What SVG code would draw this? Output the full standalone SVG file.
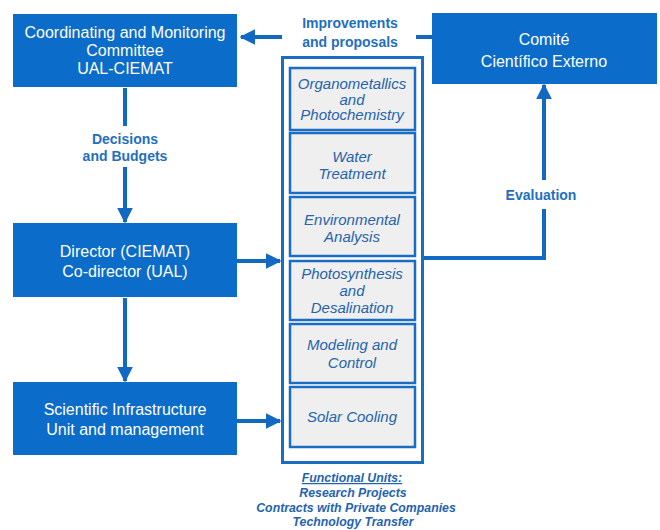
<svg xmlns="http://www.w3.org/2000/svg" width="660" height="530" viewBox="0 0 660 530">
<style>
.main{fill:#0b6cc9;}
.mt{fill:#ffffff;font-family:"Liberation Sans",Arial,sans-serif;font-size:16px;text-anchor:middle;}
.unit{fill:#efefef;stroke:#1a6dc2;stroke-width:2.5;}
.ut{fill:#2563ad;font-family:"Liberation Sans",Arial,sans-serif;font-style:italic;font-size:15px;text-anchor:middle;}
.lbl{fill:#1f6fc0;font-family:"Liberation Sans",Arial,sans-serif;font-weight:bold;font-size:14px;text-anchor:middle;}
.conn{stroke:#1269c4;stroke-width:4;fill:none;}
.fu{fill:#1f64b0;font-family:"Liberation Sans",Arial,sans-serif;font-style:italic;font-weight:bold;font-size:12.3px;text-anchor:middle;}
</style>
<defs>
<marker id="ah" viewBox="0 0 10 10" refX="9" refY="5" markerWidth="4" markerHeight="4" markerUnits="strokeWidth" orient="auto">
<path d="M0,0 L10,5 L0,10 z" fill="#1269c4"/>
</marker>
</defs>
<rect width="660" height="530" fill="#ffffff"/>

<g id="connectors">
<line class="conn" x1="432" y1="37" x2="416" y2="37"/>
<line class="conn" x1="282" y1="37" x2="241" y2="37" marker-end="url(#ah)"/>
<line class="conn" x1="125" y1="88" x2="125" y2="126"/>
<line class="conn" x1="125" y1="167" x2="125" y2="222" marker-end="url(#ah)"/>
<line class="conn" x1="125" y1="298" x2="125" y2="381" marker-end="url(#ah)"/>
<line class="conn" x1="237" y1="261" x2="280" y2="261" marker-end="url(#ah)"/>
<line class="conn" x1="237" y1="421" x2="280" y2="421" marker-end="url(#ah)"/>
<polyline class="conn" points="423,258 544,258 544,209"/>
<line class="conn" x1="544" y1="180" x2="544" y2="85" marker-end="url(#ah)"/>
<text class="lbl" x="350" y="28">Improvements</text>
<text class="lbl" x="350" y="47">and proposals</text>
<text class="lbl" x="125" y="144">Decisions</text>
<text class="lbl" x="125" y="161">and Budgets</text>
<text class="lbl" x="541" y="200">Evaluation</text>
</g>

<g id="coordinating">
<rect class="main" x="13" y="14" width="224" height="73"/>
<text class="mt" x="125" y="38">Coordinating and Monitoring</text>
<text class="mt" x="125" y="56">Committee</text>
<text class="mt" x="125" y="74">UAL-CIEMAT</text>
</g>

<g id="comite">
<rect class="main" x="432" y="13" width="225" height="71"/>
<text class="mt" x="544" y="45" font-size="16.5">Comité</text>
<text class="mt" x="544" y="67" font-size="16.5">Científico Externo</text>
</g>

<g id="director">
<rect class="main" x="13" y="223" width="224" height="74"/>
<text class="mt" x="125" y="257">Director (CIEMAT)</text>
<text class="mt" x="125" y="277">Co-director (UAL)</text>
</g>

<g id="infrastructure">
<rect class="main" x="13" y="382" width="224" height="73"/>
<text class="mt" x="125" y="415">Scientific Infrastructure</text>
<text class="mt" x="125" y="435">Unit and management</text>
</g>

<g id="container">
<rect x="282.5" y="57.5" width="140" height="405" fill="#ffffff" stroke="#1a6dc2" stroke-width="3"/>
</g>

<g id="organometallics">
<rect class="unit" x="290" y="68" width="125" height="62"/>
<text class="ut" x="352" y="89" font-size="12">Organometallics</text>
<text class="ut" x="352" y="104.5" font-size="12">and</text>
<text class="ut" x="352" y="120" font-size="12">Photochemistry</text>
</g>
<g id="water">
<rect class="unit" x="290" y="133" width="125" height="60"/>
<text class="ut" x="352" y="162">Water</text>
<text class="ut" x="352" y="179">Treatment</text>
</g>
<g id="environmental">
<rect class="unit" x="290" y="197" width="125" height="59"/>
<text class="ut" x="352" y="225">Environmental</text>
<text class="ut" x="352" y="242">Analysis</text>
</g>
<g id="photosynthesis">
<rect class="unit" x="290" y="261" width="125" height="59"/>
<text class="ut" x="352" y="279" font-size="14">Photosynthesis</text>
<text class="ut" x="352" y="296" font-size="14">and</text>
<text class="ut" x="352" y="313" font-size="14">Desalination</text>
</g>
<g id="modeling">
<rect class="unit" x="290" y="324" width="125" height="59"/>
<text class="ut" x="352" y="350">Modeling and</text>
<text class="ut" x="352" y="368">Control</text>
</g>
<g id="solar">
<rect class="unit" x="290" y="387" width="125" height="60"/>
<text class="ut" x="352" y="422">Solar Cooling</text>
</g>

<g id="functional-units">
<text class="fu" x="352" y="482" text-decoration="underline" font-weight="normal">Functional Units:</text>
<text class="fu" x="353" y="497">Research Projects</text>
<text class="fu" x="356" y="512">Contracts with Private Companies</text>
<text class="fu" x="353" y="526">Technology Transfer</text>
</g>
</svg>
